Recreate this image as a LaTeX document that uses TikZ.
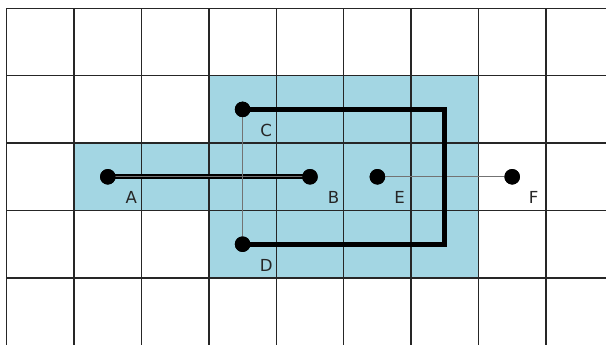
\documentclass[tikz,border=0pt]{standalone}
\usepackage{fontspec}
\setmainfont{DejaVu Sans}
\definecolor{cellblue}{RGB}{163,214,227}
\definecolor{thingray}{RGB}{115,115,115}
\begin{document}
\begin{tikzpicture}[x=1cm,y=1cm,
  gridline/.style={line width=0.6pt, draw=black!85},
  dot/.style={circle, fill=black, inner sep=0pt, minimum size=0.23cm},
  thickpath/.style={line width=2pt, draw=black, line cap=butt, line join=miter},
  thinline/.style={line width=0.45pt, draw=thingray},
  lbl/.style={font=\fontsize{7}{8}\selectfont, inner sep=0pt, text=black!85}]
\useasboundingbox (-0.0994,-4.981) rectangle (8.892,0.123);
\fill[white] (-0.0994,-4.981) rectangle (8.892,0.123);
\begin{scope}
\clip (-0.0994,-4.981) rectangle (8.892,0.123);
\fill[cellblue] (3,-1) rectangle (7,-4);
\fill[cellblue] (1,-2) rectangle (3,-3);
\draw[gridline] (0,-5.5) grid (9.5,0);
\end{scope}
\node[dot] (A) at (1.5,-2.5) {};
\node[dot] (B) at (4.5,-2.5) {};
\node[dot] (C) at (3.5,-1.5) {};
\node[dot] (D) at (3.5,-3.5) {};
\node[dot] (E) at (5.5,-2.5) {};
\node[dot] (F) at (7.5,-2.5) {};
\coordinate (c1) at (6.5,-1.5);
\coordinate (c2) at (6.5,-3.5);
\draw[thickpath] (A.center) -- (B.center);
\draw[thinline] (A.center) -- (B.center);
\draw[thinline] (C.center) -- (D.center);
\draw[thinline] (E.center) -- (F.center);
\draw[thickpath] (C.center) -- (c1) -- (c2) -- (D.center);
\foreach \n in {A,B,C,D,E,F}{\node[dot] at (\n) {};}
\node[lbl] (lA) at ([shift={(0.35,-0.31)}]A) {A};
\node[lbl] (lB) at ([shift={(0.35,-0.31)}]B) {B};
\node[lbl] (lC) at ([shift={(0.35,-0.31)}]C) {C};
\node[lbl] (lD) at ([shift={(0.35,-0.31)}]D) {D};
\node[lbl] (lE) at ([shift={(0.33,-0.31)}]E) {E};
\node[lbl] (lF) at ([shift={(0.32,-0.31)}]F) {F};
\end{tikzpicture}
\end{document}
